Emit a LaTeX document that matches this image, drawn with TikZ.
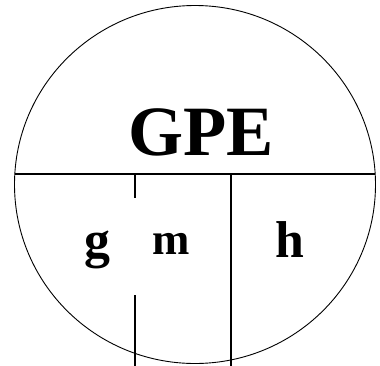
\documentclass[tikz,border=0pt]{standalone}
\usepackage{fontspec}
\setmainfont{Liberation Serif}
\usepackage{tikz}

\begin{document}
\begin{tikzpicture}[x=1bp,y=1bp,yscale=-1,xscale=1,
  letter/.style={anchor=base,inner sep=0pt,font=\bfseries\fontsize{52}{52}\selectfont},
  divider/.style={line width=1.1bp}]
%set diagram left start at 0, and has height of 366
\useasboundingbox (0,0) rectangle (380,366);

%Shape: Ellipse
\draw [line width=0.9bp] (195,184.5) ellipse [x radius=180.5, y radius=179];

% Named end points
\coordinate (rowL) at (14.6,174);
\coordinate (rowR) at (375.4,174);
\coordinate (gmTop) at (135,174);
\coordinate (gmGapA) at (135,198);
\coordinate (gmGapB) at (135,295);
\coordinate (gmBot) at (135,366);
\coordinate (mhTop) at (231,174);
\coordinate (mhBot) at (231,366);

%Straight Lines
\draw [line width=1.4bp] (rowL) -- (rowR);
\draw [divider] (gmTop) -- (gmGapA);
\draw [divider] (gmGapB) -- (gmBot);
\draw [divider] (mhTop) -- (mhBot);

% Text Node
\node (gpe) at (201,155) [anchor=base,inner sep=0pt,font=\bfseries\fontsize{71}{71}\selectfont] {GPE};
% Text Node
\node (g) at (97,257) [letter] {g};
% Text Node
\node (m) at (171,254) [letter,font=\bfseries\fontsize{45}{45}\selectfont] {m};
% Text Node
\node (h) at (290,257) [letter] {h};
\end{tikzpicture}
\end{document}
